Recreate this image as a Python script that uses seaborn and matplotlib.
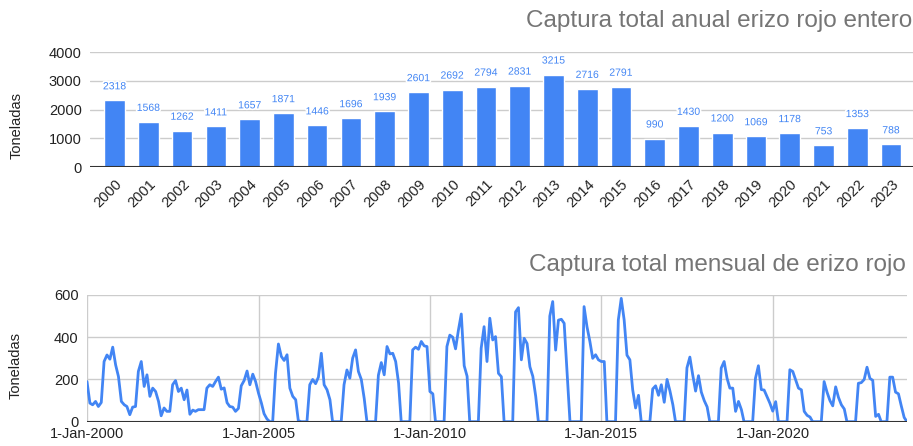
import pandas as pd
import matplotlib
matplotlib.use('Agg')
import matplotlib.pyplot as plt
import matplotlib.patheffects as pe
import seaborn as sns

# Datos anuales (toneladas)
anios = [str(a) for a in range(2000, 2024)]
anual = [2318, 1568, 1262, 1411, 1657, 1871, 1446, 1696, 1939, 2601, 2692, 2794,
         2831, 3215, 2716, 2791, 990, 1430, 1200, 1069, 1178, 753, 1353, 788]

# Datos mensuales (toneladas), una fila por año, ene-dic
mensual = [
    190, 88, 80, 96, 72, 91, 285, 316, 296, 353, 269, 214,     # 2000
    96, 80, 72, 33, 69, 72, 238, 285, 167, 222, 120, 159,      # 2001
    143, 96, 28, 65, 49, 49, 175, 195, 143, 159, 104, 150,     # 2002
    35, 55, 49, 57, 57, 57, 159, 175, 167, 190, 211, 154,      # 2003
    160, 90, 72, 69, 49, 63, 170, 195, 240, 175, 225, 190,     # 2004
    135, 88, 38, 13, 0, 0, 230, 368, 309, 290, 317, 159,       # 2005
    120, 104, 5, 0, 0, 0, 175, 200, 180, 211, 324, 175,        # 2006
    151, 104, 0, 0, 0, 0, 175, 245, 206, 301, 340, 238,        # 2007
    200, 110, 0, 0, 0, 0, 220, 280, 222, 356, 321, 324,        # 2008
    285, 183, 0, 0, 0, 0, 340, 353, 343, 380, 359, 356,        # 2009
    143, 132, 0, 0, 0, 0, 356, 410, 400, 345, 435, 510,        # 2010
    265, 215, 0, 0, 0, 0, 348, 450, 285, 490, 387, 403,        # 2011
    229, 213, 0, 0, 0, 0, 520, 540, 293, 395, 370, 260,        # 2012
    215, 120, 0, 0, 0, 0, 500, 569, 339, 481, 485, 466,        # 2013
    230, 0, 0, 0, 0, 0, 545, 450, 380, 300, 317, 293,          # 2014
    285, 285, 0, 0, 0, 0, 482, 584, 482, 315, 293, 151,        # 2015
    65, 125, 0, 0, 0, 0, 155, 170, 125, 175, 92, 200,          # 2016
    145, 80, 0, 0, 0, 0, 255, 306, 220, 145, 218, 140,         # 2017
    100, 70, 0, 0, 0, 0, 254, 285, 206, 159, 159, 49,          # 2018
    96, 57, 0, 0, 0, 0, 206, 265, 152, 150, 118, 88,           # 2019
    50, 95, 0, 0, 0, 0, 246, 238, 198, 159, 151, 49,           # 2020
    30, 22, 0, 0, 0, 0, 190, 140, 100, 75, 165, 115,           # 2021
    80, 60, 0, 0, 0, 0, 182, 185, 200, 258, 205, 196,          # 2022
    25, 35, 0, 0, 0, 211, 211, 140, 132, 75, 20, 0,            # 2023
]
fechas = pd.date_range('2000-01-01', periods=len(mensual), freq='MS')

ticks_fecha = [pd.Timestamp(f'{a}-01-01') for a in (2000, 2005, 2010, 2015, 2020)]
etiquetas_fecha = [f'1-Jan-{a}' for a in (2000, 2005, 2010, 2015, 2020)]

sns.set_style('white')
plt.rcParams['font.family'] = ['Liberation Sans', 'DejaVu Sans']

azul = '#4285F4'
texto = '#222222'
rejilla = '#cccccc'
W, H = 913, 446

fig = plt.figure(figsize=(W / 100, H / 100), dpi=100)

# 1. Grafico de barras anual
ax1 = fig.add_axes([90 / W, 1 - 167 / H, 1 - 90 / W, 115 / H])
df_anual = pd.DataFrame({'anio': anios, 'toneladas': anual})
sns.barplot(data=df_anual, x='anio', y='toneladas', color=azul, saturation=1,
            width=0.61, ax=ax1)
ax1.bar_label(ax1.containers[0], padding=6.5, fontsize=7.5, color=azul,
              path_effects=[pe.withStroke(linewidth=2.5, foreground='white')])
ax1.set_ylim(0, 4000)
ax1.set_yticks([0, 1000, 2000, 3000, 4000])
ax1.set_xlim(-0.73, 23.65)
ax1.grid(axis='y', color=rejilla, lw=1)
ax1.set_axisbelow(True)
ax1.axhline(0, color='#333333', lw=1.5)
sns.despine(ax=ax1, left=True, bottom=True)
ax1.tick_params(axis='y', length=0, labelsize=10.5, labelcolor=texto, pad=6)
ax1.tick_params(axis='x', length=0, labelsize=10.5, labelcolor=texto, pad=7)
plt.setp(ax1.get_xticklabels(), rotation=45, ha='right', rotation_mode='anchor')
ax1.set_xlabel('')
ax1.set_ylabel('Toneladas', fontsize=10.5, color=texto)
ax1.yaxis.set_label_coords(-0.081, 0.365)

# 2. Grafico de lineas mensual
ax2 = fig.add_axes([87 / W, 1 - 421.7 / H, 820 / W, 126.7 / H])
sns.lineplot(x=fechas, y=mensual, color=azul, lw=2, ax=ax2)
ax2.set_xlim(fechas[0], fechas[-1])
ax2.set_ylim(0, 600)
ax2.set_yticks([0, 200, 400, 600])
ax2.set_xticks(ticks_fecha)
ax2.set_xticklabels(etiquetas_fecha)
ax2.grid(True, color=rejilla, lw=1)
ax2.set_axisbelow(True)
ax2.axhline(0, color='#333333', lw=1.5)
sns.despine(ax=ax2, left=True, bottom=True)
ax2.tick_params(axis='y', length=0, labelsize=10.5, labelcolor=texto, pad=6)
ax2.tick_params(axis='x', length=0, labelsize=10.5, labelcolor=texto, pad=4)
ax2.set_xlabel('')
ax2.set_ylabel('Toneladas', fontsize=10.5, color=texto)
ax2.yaxis.set_label_coords(-0.078, 0.44)

# Titulos
fig.text(912 / W, 1 - 21 / H, 'Captura total anual erizo rojo entero',
         ha='right', va='center', fontsize=17.5, color='#757575')
fig.text(906 / W, 1 - 265 / H, 'Captura total mensual de erizo rojo',
         ha='right', va='center', fontsize=17.5, color='#757575')

fig.savefig('out.png', dpi=100)
